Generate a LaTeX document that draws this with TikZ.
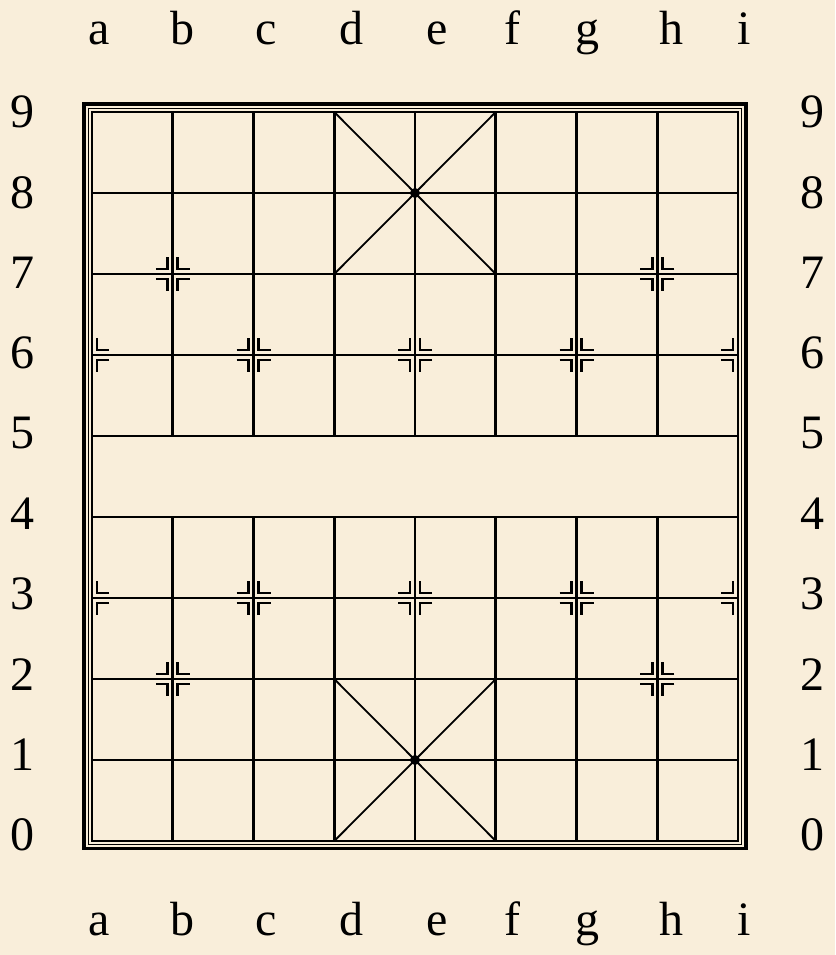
\documentclass[tikz,border=0pt]{standalone}
\usepackage{fontspec}
\setmainfont{Liberation Serif}
\definecolor{parchment}{RGB}{249,238,218}
\tikzset{
  gridline/.style={line width=2.6pt,line cap=rect},
  palaceline/.style={line width=1.8pt},
  markline/.style={line width=2.6pt},
  coordlabel/.style={font=\fontsize{48}{48}\selectfont,inner sep=0pt},
}
\begin{document}
\begin{tikzpicture}[x=1pt,y=-1pt]
  \fill[parchment] (0,0) rectangle (835,955);
  \useasboundingbox (0,0) rectangle (835,955);
  %% frame
  \draw[line width=3.2pt] (84,104) rectangle (746,848.5);
  \draw[line width=1.8pt] (88.5,108.5) rectangle (741.5,844.5);
  %% ranks
  \foreach \rk in {0,...,9} {
    \draw[gridline] (92,{841-81*\rk}) -- (738,{841-81*\rk});
  }
  %% files, cut by the river
  \foreach \fl in {0,8} {
    \draw[gridline] ({92+80.75*\fl},841) -- ({92+80.75*\fl},112);
  }
  \foreach \fl in {1,...,7} {
    \draw[gridline] ({92+80.75*\fl},841) -- ({92+80.75*\fl},517);
    \draw[gridline] ({92+80.75*\fl},436) -- ({92+80.75*\fl},112);
  }
  %% palaces
  \draw[palaceline] (334.25,112) -- (495.75,274);
  \draw[palaceline] (495.75,112) -- (334.25,274);
  \draw[palaceline] (334.25,679) -- (495.75,841);
  \draw[palaceline] (495.75,679) -- (334.25,841);
  \fill (415,193) circle (5);
  \fill (415,760) circle (5);
  %% cannon and soldier points: file/rank/sides
  \foreach \fl/\rk/\sides in {1/2/{-1,1},7/2/{-1,1},1/7/{-1,1},7/7/{-1,1},
      0/3/{1},2/3/{-1,1},4/3/{-1,1},6/3/{-1,1},8/3/{-1},
      0/6/{1},2/6/{-1,1},4/6/{-1,1},6/6/{-1,1},8/6/{-1}} {
    \foreach \sx in \sides {
      \foreach \sy in {-1,1} {
        \draw[markline,shift={({92+80.75*\fl},{841-81*\rk})}]
          (\sx*17,\sy*5) -- (\sx*5,\sy*5) -- (\sx*5,\sy*17);
      }
    }
  }
  %% file letters
  \foreach \lt/\px in {a/99,b/182,c/266,d/351,e/437,f/512,g/587,h/671,i/744} {
    \node[coordlabel,anchor=base] (top-\lt) at (\px,45) {\lt};
    \node[coordlabel,anchor=base] (bot-\lt) at (\px,935) {\lt};
  }
  %% rank numbers
  \foreach \rk in {0,...,9} {
    \node[coordlabel] (left-\rk) at (22,{112+80.35*(9-\rk)}) {\rk};
    \node[coordlabel] (right-\rk) at (812,{112+80.35*(9-\rk)}) {\rk};
  }
\end{tikzpicture}
\end{document}
